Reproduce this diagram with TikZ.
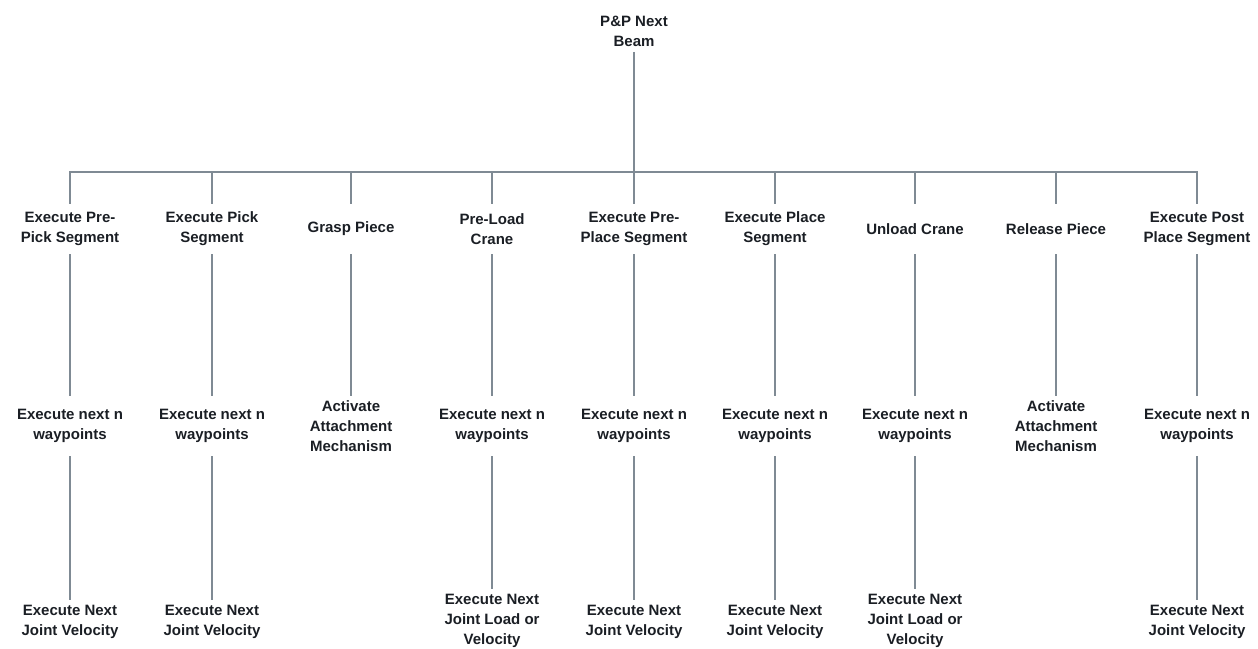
\documentclass[tikz,border=0pt]{standalone}
\usepackage{fontspec}
\setmainfont{Liberation Sans}
\definecolor{txt}{HTML}{1A1E24}
\definecolor{ln}{HTML}{7F8A94}
\begin{document}
\begin{tikzpicture}[x=1pt,y=-1pt,
  lbl/.style={align=center,text=txt,inner xsep=3pt,inner ysep=5pt,
    font=\fontsize{15}{20}\selectfont\bfseries},
  lvla/.style={lbl,minimum height=50pt},
  lvlb/.style={lbl,inner ysep=3pt,minimum height=60pt},
  lvlc/.style={lbl},
  conn/.style={draw=ln,line width=1.6pt}]
\useasboundingbox (0,0) rectangle (1258,648);
\node[lbl] (root) at (634,31.5) {P\&P Next\\Beam};
\coordinate (bar) at (634,172);
% level 1
\node[lvla] (a1) at (70,229) {Execute Pre-\\Pick Segment};
\node[lvla] (a2) at (212,229) {Execute Pick\\Segment};
\node[lvla] (a3) at (351,229) {Grasp Piece};
\node[lvla] (a4) at (492,229) {Pre-Load\\Crane};
\node[lvla] (a5) at (634,229) {Execute Pre-\\Place Segment};
\node[lvla] (a6) at (775,229) {Execute Place\\Segment};
\node[lvla] (a7) at (915,229) {Unload Crane};
\node[lvla] (a8) at (1056,229) {Release Piece};
\node[lvla] (a9) at (1197,229) {Execute Post\\Place Segment};
% level 2
\node[lvlb] (b1) at (70,426) {Execute next n\\waypoints};
\node[lvlb] (b2) at (212,426) {Execute next n\\waypoints};
\node[lvlb] (b3) at (351,426) {Activate\\Attachment\\Mechanism};
\node[lvlb] (b4) at (492,426) {Execute next n\\waypoints};
\node[lvlb] (b5) at (634,426) {Execute next n\\waypoints};
\node[lvlb] (b6) at (775,426) {Execute next n\\waypoints};
\node[lvlb] (b7) at (915,426) {Execute next n\\waypoints};
\node[lvlb] (b8) at (1056,426) {Activate\\Attachment\\Mechanism};
\node[lvlb] (b9) at (1197,426) {Execute next n\\waypoints};
% level 3
\node[lvlc] (c1) at (70,622) {Execute Next\\Joint Velocity};
\node[lvlc] (c2) at (212,622) {Execute Next\\Joint Velocity};
\node[lvlc] (c4) at (492,621) {Execute Next\\Joint Load or\\Velocity};
\node[lvlc] (c5) at (634,622) {Execute Next\\Joint Velocity};
\node[lvlc] (c6) at (775,622) {Execute Next\\Joint Velocity};
\node[lvlc] (c7) at (915,621) {Execute Next\\Joint Load or\\Velocity};
\node[lvlc] (c9) at (1197,622) {Execute Next\\Joint Velocity};
% connectors
\draw[conn] (root.south) -- (bar);
\draw[conn] (a1.north) -- (a1.north |- bar) -- (a9.north |- bar) -- (a9.north);
\foreach \i in {2,...,8} {\draw[conn] (a\i.north) -- (a\i.north |- bar);}
\foreach \i in {1,...,9} {\draw[conn] (a\i.south) -- (b\i.north);}
\foreach \i in {1,2,4,5,6,7,9} {\draw[conn] (b\i.south) -- (c\i.north);}
\end{tikzpicture}
\end{document}
